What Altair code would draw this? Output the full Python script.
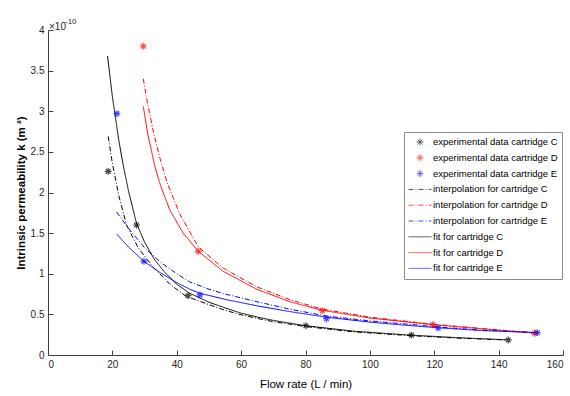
import altair as alt
import pandas as pd

FONT = "Liberation Sans, Arial, sans-serif"

# ---- series names (legend order) ----
series = [
    "experimental data cartridge C",
    "experimental data cartridge D",
    "experimental data cartridge E",
    "interpolation for cartridge C",
    "interpolation for cartridge D",
    "interpolation for cartridge E",
    "fit for cartridge C",
    "fit for cartridge D",
    "fit for cartridge E",
]

# ---- experimental data (k in units of 1e-10 m^2) ----
exp_c_x = [18.7, 27.5, 43.5, 80.1, 112.9, 143.0]
exp_c_y = [2.26, 1.60, 0.73, 0.36, 0.245, 0.185]
exp_d_x = [29.6, 46.7, 85.2, 119.5, 151.2]
exp_d_y = [3.80, 1.276, 0.545, 0.373, 0.267]
exp_e_x = [21.4, 29.8, 47.2, 86.5, 121.2, 152.0]
exp_e_y = [2.97, 1.153, 0.74, 0.447, 0.332, 0.275]

# ---- interpolation curves ----
int_c_x = [18.7, 20, 22, 24.4, 28, 32.7, 37.9, 43, 50, 55, 60, 65, 70, 80, 95, 112.5, 127, 142.5]
int_c_y = [2.69, 2.36, 1.96, 1.60, 1.32, 1.08, 0.87, 0.72, 0.62, 0.55, 0.495, 0.45, 0.41, 0.35, 0.285, 0.238, 0.208, 0.185]
int_d_x = [29.6, 31, 33, 34.8, 37, 41, 46.7, 54.4, 64.8, 75.2, 85.2, 100, 119.5, 135, 151.2]
int_d_y = [3.40, 3.08, 2.70, 2.42, 2.12, 1.73, 1.33, 1.07, 0.84, 0.68, 0.565, 0.465, 0.38, 0.325, 0.272]
int_e_x = [21.3, 25, 30, 35, 40, 44, 50, 55, 65, 75, 86.5, 100, 110, 121.2, 135, 152]
int_e_y = [1.76, 1.56, 1.32, 1.14, 1.0, 0.90, 0.81, 0.75, 0.655, 0.565, 0.48, 0.42, 0.385, 0.345, 0.305, 0.277]

# ---- fit curves ----
fit_c_x = [18.5, 20, 22, 23.4, 25, 27.5, 30, 33, 36, 40, 44, 50, 55, 60, 65, 70, 80, 95, 112.5, 127, 142.5]
fit_c_y = [3.68, 3.18, 2.64, 2.33, 2.02, 1.62, 1.39, 1.18, 1.03, 0.87, 0.76, 0.65, 0.58, 0.515, 0.467, 0.426, 0.36, 0.293, 0.245, 0.214, 0.187]
fit_d_x = [29.6, 31, 33.2, 35, 37.9, 42, 46.7, 54.4, 64.8, 75.2, 85.2, 100, 119.5, 135, 151.2]
fit_d_y = [3.06, 2.72, 2.32, 2.08, 1.78, 1.50, 1.276, 1.03, 0.81, 0.655, 0.55, 0.455, 0.373, 0.322, 0.27]
fit_e_x = [21.3, 25, 29.8, 35, 40, 44, 47.2, 55, 65, 75, 86.5, 100, 110, 121.2, 135, 152]
fit_e_y = [1.49, 1.33, 1.153, 1.01, 0.89, 0.81, 0.76, 0.685, 0.605, 0.535, 0.465, 0.405, 0.37, 0.335, 0.30, 0.275]

x_ticks = [0, 20, 40, 60, 80, 100, 120, 140, 160]
y_ticks = [0, 0.5, 1, 1.5, 2, 2.5, 3, 3.5, 4]
exponent_base = ["×10"]
exponent_power = ["-10"]

colors = ["#000000", "#ff0000", "#0000ff"] * 3
ASTER = "M-0.3,0L0.3,0M0,-0.3L0,0.3M-0.21,-0.21L0.21,0.21M-0.21,0.21L0.21,-0.21"
shapes = [ASTER] * 3 + ["stroke"] * 6
dashes = [[1, 0]] * 3 + [[5, 2, 1, 2]] * 3 + [[1, 0]] * 3


def frame(xs, ys, name):
    return pd.DataFrame({"x": xs, "y": ys, "series": name})


pts = pd.concat([
    frame(exp_c_x, exp_c_y, series[0]),
    frame(exp_d_x, exp_d_y, series[1]),
    frame(exp_e_x, exp_e_y, series[2]),
])
lines = pd.concat([
    frame(int_c_x, int_c_y, series[3]),
    frame(int_d_x, int_d_y, series[4]),
    frame(int_e_x, int_e_y, series[5]),
    frame(fit_c_x, fit_c_y, series[6]),
    frame(fit_d_x, fit_d_y, series[7]),
    frame(fit_e_x, fit_e_y, series[8]),
])

xscale = alt.Scale(domain=[0, 160], nice=False, zero=False)
yscale = alt.Scale(domain=[0, 4], nice=False, zero=False)

legend = alt.Legend(
    title=None, orient="none", legendX=356, legendY=102,
    labelFont=FONT, labelFontSize=9.5, labelColor="#000000", labelOffset=1,
    symbolSize=529, symbolStrokeWidth=1, clipHeight=12, rowPadding=3.8,
    padding=4, strokeColor="#8c8c8c", fillColor="#ffffff", labelLimit=200,
)
color_enc = alt.Color("series:N", scale=alt.Scale(domain=series, range=colors), legend=legend)
shape_enc = alt.Shape("series:N", scale=alt.Scale(domain=series, range=shapes), legend=legend)
dash_enc = alt.StrokeDash("series:N", scale=alt.Scale(domain=series, range=dashes), legend=legend)

x_main = alt.X("x:Q", scale=xscale, axis=alt.Axis(
    orient="bottom", values=x_ticks, ticks=False, grid=False,
    domainColor="#404040", labelColor="#262626", labelFont=FONT, labelFontSize=10,
    labelPadding=4, title="Flow rate (L / min)", titleFont=FONT, titleFontSize=11.5,
    titleFontWeight="normal", titleColor="#000000", titlePadding=9))
y_main = alt.Y("y:Q", scale=yscale, axis=alt.Axis(
    orient="left", values=y_ticks, ticks=False, grid=False, format="~g",
    domainColor="#404040", labelColor="#262626", labelFont=FONT, labelFontSize=10,
    labelPadding=4, title="Intrinsic permeability k (m ²)", titleFont=FONT,
    titleFontSize=11.5, titleFontWeight="bold", titleColor="#000000", titlePadding=4))

line_layer = alt.Chart(lines).mark_line(strokeWidth=1).encode(
    x=x_main, y=y_main, color=color_enc, strokeDash=dash_enc)
point_layer = alt.Chart(pts).mark_point(filled=False, strokeWidth=1.2, size=529).encode(
    x="x:Q", y="y:Q", color=color_enc, shape=shape_enc)

# axis exponent label (x10^-10) above the y axis
exp_base = alt.Chart(pd.DataFrame({"t": exponent_base})).mark_text(
    font=FONT, fontSize=10, color="#262626", align="left", baseline="alphabetic"
).encode(text="t:N", x=alt.value(1), y=alt.value(0))
exp_pow = alt.Chart(pd.DataFrame({"t": exponent_power})).mark_text(
    font=FONT, fontSize=8, color="#262626", align="left", baseline="alphabetic"
).encode(text="t:N", x=alt.value(17), y=alt.value(-6))

main = alt.layer(line_layer, point_layer, exp_base, exp_pow)

# inward-pointing ticks: axes moved onto the opposite edges
tick_layer = alt.Chart(pts).mark_point(opacity=0).encode(
    x=alt.X("x:Q", scale=xscale, axis=alt.Axis(
        orient="top", offset=-325, values=x_ticks, labels=False, domain=False,
        grid=False, tickSize=5, tickColor="#404040", title=None)),
    y=alt.Y("y:Q", scale=yscale, axis=alt.Axis(
        orient="right", offset=-515, values=y_ticks, labels=False, domain=False,
        grid=False, tickSize=5, tickColor="#404040", title=None)),
)

chart = alt.layer(main, tick_layer).resolve_scale(
    x="independent", y="independent"
).properties(
    width=515, height=325,
    autosize=alt.AutoSizeParams(type="none"),
    padding={"left": 48, "top": 30, "right": 7, "bottom": 41},
).configure_view(strokeWidth=0)

chart.save("out.html", embed_options={"renderer": "svg", "actions": False})
